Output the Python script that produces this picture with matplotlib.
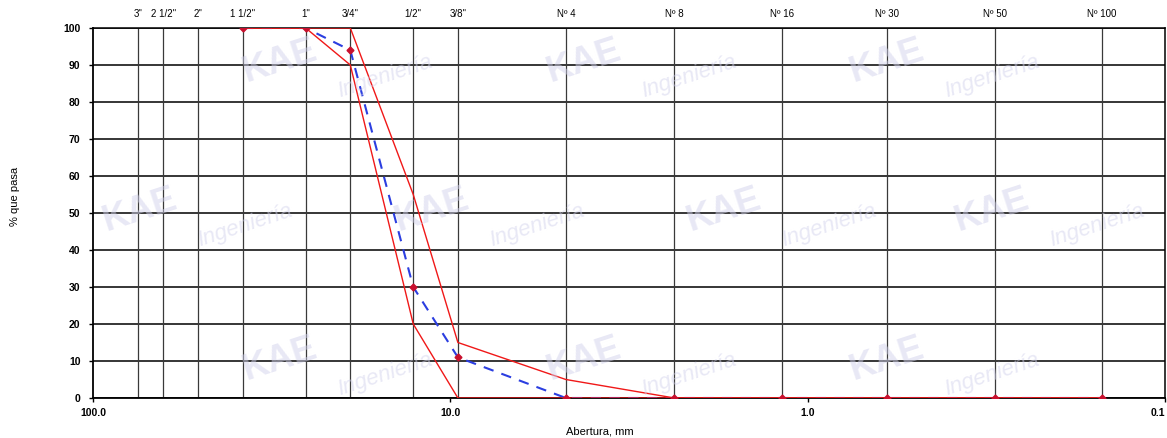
import matplotlib
matplotlib.use("Agg")
import matplotlib.pyplot as plt
from matplotlib.ticker import FixedLocator, NullLocator

plt.rcParams['font.family'] = ['Liberation Sans', 'DejaVu Sans']

# Sieve data
sieve_labels = ['3"', '2 1/2"', '2"', '1 1/2"', '1"', '3/4"', '1/2"', '3/8"',
                'Nº 4', 'Nº 8', 'Nº 16', 'Nº 30', 'Nº 50', 'Nº 100']
sieve_mm = [75.0, 63.5, 50.8, 38.1, 25.4, 19.05, 12.7, 9.525,
            4.75, 2.36, 1.18, 0.6, 0.3, 0.15]

# Curves (from 1 1/2" to Nº 100)
curve_mm = [38.1, 25.4, 19.05, 12.7, 9.525, 4.75, 2.36, 1.18, 0.6, 0.3, 0.15]
sample_pass = [100, 100, 94, 30, 11, 0, 0, 0, 0, 0, 0]
upper_limit = [100, 100, 100, 55, 15, 5, 0, 0, 0, 0, 0]
lower_limit = [100, 100, 90, 20, 0, 0, 0, 0, 0, 0, 0]

x_ticks = [100.0, 10.0, 1.0, 0.1]
x_tick_labels = ['100.0', '10.0', '1.0', '0.1']
y_ticks = list(range(0, 101, 10))

W, H = 1167, 438
fig = plt.figure(figsize=(W / 100, H / 100), dpi=100)
ax = fig.add_axes([93 / W, 1 - 398 / H, (1165 - 93) / W, 370 / H])

ax.set_xscale('log')
ax.set_xlim(100, 0.1)
ax.set_ylim(0, 100)

# faint watermark (kept inside the figure)
wm_color = '#d2d2ec'
for (wx, wy) in [(0.24, 0.86), (0.50, 0.86), (0.76, 0.86),
                 (0.12, 0.52), (0.37, 0.52), (0.62, 0.52), (0.85, 0.52),
                 (0.24, 0.18), (0.50, 0.18), (0.76, 0.18)]:
    fig.text(wx, wy, 'KAE', fontsize=26, fontweight='bold', color=wm_color,
             rotation=18, ha='center', va='center', alpha=0.5, zorder=0)
    fig.text(wx + 0.09, wy - 0.035, 'Ingeniería', fontsize=16, fontstyle='italic',
             color=wm_color, rotation=18, ha='center', va='center', alpha=0.5, zorder=0)

ax.patch.set_alpha(0)

# grid
for y in y_ticks:
    ax.axhline(y, color='black', lw=1.1, zorder=1)
for s in sieve_mm:
    ax.axvline(s, color='#3a3a3a', lw=0.9, zorder=1)

# sample curve
ax.plot(curve_mm, sample_pass, color='#2b3ee0', lw=1.5, ls=(0, (5, 4)), zorder=3)
# limit curves
ax.plot(curve_mm, upper_limit, color='#f01818', lw=1.0, zorder=4)
ax.plot(curve_mm, lower_limit, color='#f01818', lw=1.0, zorder=4)
ax.plot(curve_mm, sample_pass, ls='none', marker='D', ms=3.5, color='#c8102e', zorder=5)

# axes styling
ax.xaxis.set_major_locator(FixedLocator(x_ticks))
ax.xaxis.set_minor_locator(NullLocator())
ax.set_xticklabels(x_tick_labels, fontsize=7.5, fontweight='bold')
ax.get_xticklabels()[-1].set_horizontalalignment('right')
ax.set_yticks(y_ticks)
ax.set_yticklabels([str(v) for v in y_ticks], fontsize=7.5, fontweight='bold')
ax.tick_params(axis='x', length=3, width=1, pad=4)
ax.tick_params(axis='y', length=3, width=1, pad=6)
for sp in ['left', 'bottom']:
    ax.spines[sp].set_linewidth(1.3)
for sp in ['top', 'right']:
    ax.spines[sp].set_linewidth(1.1)

# top sieve labels
for s, lab in zip(sieve_mm, sieve_labels):
    ax.text(s, 102.5, lab, fontsize=7, ha='center', va='bottom')

fig.text(15 / W, 1 - 196 / H, '% que pasa', rotation=90, fontsize=8,
         ha='center', va='center')
fig.text(600 / W, 1 - 432 / H, 'Abertura, mm', fontsize=8, ha='center', va='center')

fig.savefig('out.png', dpi=100)
